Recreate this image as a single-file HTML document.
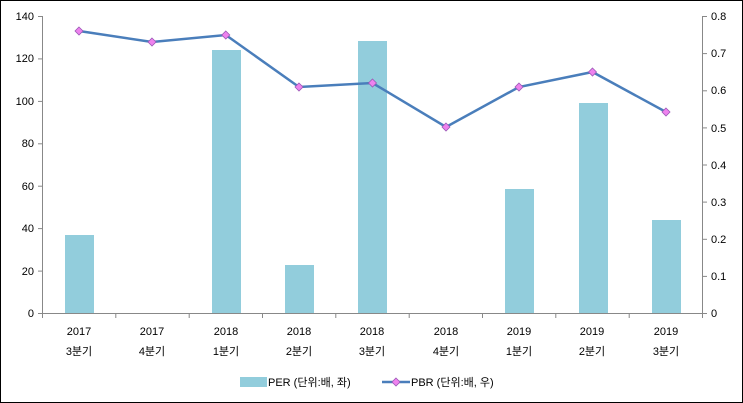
<!DOCTYPE html><html><head><meta charset="utf-8"><style>body{margin:0}svg{display:block}text{font-family:"Liberation Sans","Noto Sans CJK KR",sans-serif;font-size:11px;fill:#000}</style></head><body>
<svg width="743" height="403" viewBox="0 0 743 403">
<rect x="0.5" y="0.5" width="742" height="402" fill="#fff" stroke="#000"/>
<g stroke="#888" stroke-width="1">
<line x1="42.5" y1="16" x2="42.5" y2="313"/>
<line x1="702.5" y1="16" x2="702.5" y2="313"/>
<line x1="42" y1="313.5" x2="703" y2="313.5"/>
</g>
<g stroke="#888">
<line x1="38" x2="42" y1="16.5" y2="16.5"/><line x1="38" x2="42" y1="58.9" y2="58.9"/><line x1="38" x2="42" y1="101.4" y2="101.4"/><line x1="38" x2="42" y1="143.8" y2="143.8"/><line x1="38" x2="42" y1="186.2" y2="186.2"/><line x1="38" x2="42" y1="228.6" y2="228.6"/><line x1="38" x2="42" y1="271.1" y2="271.1"/><line x1="38" x2="42" y1="313.5" y2="313.5"/>
<line x1="702" x2="707" y1="16.5" y2="16.5"/><line x1="702" x2="707" y1="53.6" y2="53.6"/><line x1="702" x2="707" y1="90.8" y2="90.8"/><line x1="702" x2="707" y1="127.9" y2="127.9"/><line x1="702" x2="707" y1="165" y2="165"/><line x1="702" x2="707" y1="202.1" y2="202.1"/><line x1="702" x2="707" y1="239.3" y2="239.3"/><line x1="702" x2="707" y1="276.4" y2="276.4"/><line x1="702" x2="707" y1="313.5" y2="313.5"/>
<line x1="115.8" x2="115.8" y1="313" y2="318"/><line x1="189.2" x2="189.2" y1="313" y2="318"/><line x1="262.5" x2="262.5" y1="313" y2="318"/><line x1="335.8" x2="335.8" y1="313" y2="318"/><line x1="409.2" x2="409.2" y1="313" y2="318"/><line x1="482.5" x2="482.5" y1="313" y2="318"/><line x1="555.8" x2="555.8" y1="313" y2="318"/><line x1="629.2" x2="629.2" y1="313" y2="318"/><line x1="42.5" x2="42.5" y1="313" y2="318"/><line x1="702.5" x2="702.5" y1="313" y2="318"/>
</g>
<g text-anchor="end">
<text x="34" y="20">140</text><text x="34" y="62">120</text><text x="34" y="105">100</text><text x="34" y="147">80</text><text x="34" y="190">60</text><text x="34" y="232">40</text><text x="34" y="275">20</text><text x="34" y="317">0</text>
</g>
<g>
<text x="711" y="20">0.8</text><text x="711" y="57">0.7</text><text x="711" y="94">0.6</text><text x="711" y="132">0.5</text><text x="711" y="169">0.4</text><text x="711" y="206">0.3</text><text x="711" y="243">0.2</text><text x="711" y="280">0.1</text><text x="711" y="317">0</text>
</g>
<g fill="#92cddc">
<rect x="65" y="235" width="29" height="78"/>
<rect x="212" y="50" width="29" height="263"/>
<rect x="285" y="265" width="29" height="48"/>
<rect x="358" y="41" width="29" height="272"/>
<rect x="505" y="189" width="29" height="124"/>
<rect x="579" y="103" width="29" height="210"/>
<rect x="652" y="220" width="29" height="93"/>
</g>
<polyline fill="none" stroke="#4a7ebb" stroke-width="2.5" points="79,31 152,42 225.8,35 299,87 372.5,83 446,127 519,87 592.5,72 666,112"/>
<g fill="#ee82ee" stroke="#9b59b6" stroke-width="0.8">
<path d="M79,27l4,4l-4,4l-4,-4z"/><path d="M152,38l4,4l-4,4l-4,-4z"/><path d="M225.8,31l4,4l-4,4l-4,-4z"/><path d="M299,83l4,4l-4,4l-4,-4z"/><path d="M372.5,79l4,4l-4,4l-4,-4z"/><path d="M446,123l4,4l-4,4l-4,-4z"/><path d="M519,83l4,4l-4,4l-4,-4z"/><path d="M592.5,68l4,4l-4,4l-4,-4z"/><path d="M666,108l4,4l-4,4l-4,-4z"/>
</g>
<g text-anchor="middle">
<text x="79" y="335">2017</text><text x="152" y="335">2017</text><text x="226" y="335">2018</text><text x="299" y="335">2018</text><text x="372" y="335">2018</text><text x="446" y="335">2018</text><text x="519" y="335">2019</text><text x="592" y="335">2019</text><text x="666" y="335">2019</text>
<text x="79" y="355">3분기</text><text x="152" y="355">4분기</text><text x="226" y="355">1분기</text><text x="299" y="355">2분기</text><text x="372" y="355">3분기</text><text x="446" y="355">4분기</text><text x="519" y="355">1분기</text><text x="592" y="355">2분기</text><text x="666" y="355">3분기</text>
</g>
<rect x="240" y="377" width="27" height="10" fill="#92cddc"/>
<text x="268" y="386">PER (단위:배, 좌)</text>
<line x1="382" x2="410" y1="382" y2="382" stroke="#4a7ebb" stroke-width="2.5"/>
<path d="M396,378l4,4l-4,4l-4,-4z" fill="#ee82ee" stroke="#9b59b6" stroke-width="0.8"/>
<text x="411" y="386">PBR (단위:배, 우)</text>
</svg></body></html>
